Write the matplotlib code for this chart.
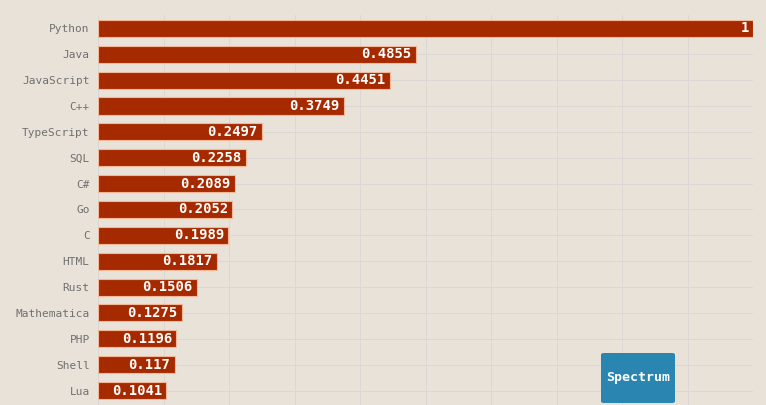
import matplotlib.pyplot as plt
from matplotlib.patches import FancyBboxPatch

languages = ['Python', 'Java', 'JavaScript', 'C++', 'TypeScript', 'SQL', 'C#', 'Go',
             'C', 'HTML', 'Rust', 'Mathematica', 'PHP', 'Shell', 'Lua']
scores = [1, 0.4855, 0.4451, 0.3749, 0.2497, 0.2258, 0.2089, 0.2052,
          0.1989, 0.1817, 0.1506, 0.1275, 0.1196, 0.117, 0.1041]
score_labels = ['1', '0.4855', '0.4451', '0.3749', '0.2497', '0.2258', '0.2089', '0.2052',
                '0.1989', '0.1817', '0.1506', '0.1275', '0.1196', '0.117', '0.1041']

bg = '#e8e2d9'
bar_color = '#a62a00'

fig = plt.figure(figsize=(7.66, 4.05), dpi=100, facecolor=bg)
ax = fig.add_axes([98/766, 0, 655/766, 1 - 15/405])
ax.set_facecolor(bg)

ypos = list(range(len(languages)))
ax.barh(ypos, scores, height=0.66, color=bar_color, edgecolor='#f3b89a', linewidth=0.8, zorder=3)

for y, v, lab in zip(ypos, scores, score_labels):
    ax.annotate(lab, (v, y), xytext=(-3, 0), textcoords='offset points',
                ha='right', va='center', color='white', fontsize=10,
                fontweight='bold', family='DejaVu Sans Mono', zorder=4)

ax.set_xlim(0, 1)
ax.set_ylim(14.56, -0.52)
ax.set_xticks([i / 10 for i in range(11)])
ax.set_yticks(ypos)
ax.set_yticklabels(languages, family='DejaVu Sans Mono', fontsize=8, color='#707070')
ax.tick_params(axis='x', length=0, labelbottom=False)
ax.tick_params(axis='y', length=0, pad=6)
ax.grid(True, color='#dbd7d5', linewidth=0.7, zorder=0)
for s in ax.spines.values():
    s.set_visible(False)

# "Spectrum" badge
box = FancyBboxPatch((601/766, 2/405), 74/766, 50/405,
                     boxstyle='round,pad=0,rounding_size=0.004',
                     transform=fig.transFigure, facecolor='#2a86b1',
                     edgecolor='none', zorder=5)
fig.patches.append(box)
fig.text(638/766, 1 - 377/405, 'Spectrum', ha='center', va='center', color='white',
         fontsize=9.5, fontweight='bold', family='DejaVu Sans Mono', zorder=6)

fig.savefig('out.png', dpi=100, facecolor=bg)
